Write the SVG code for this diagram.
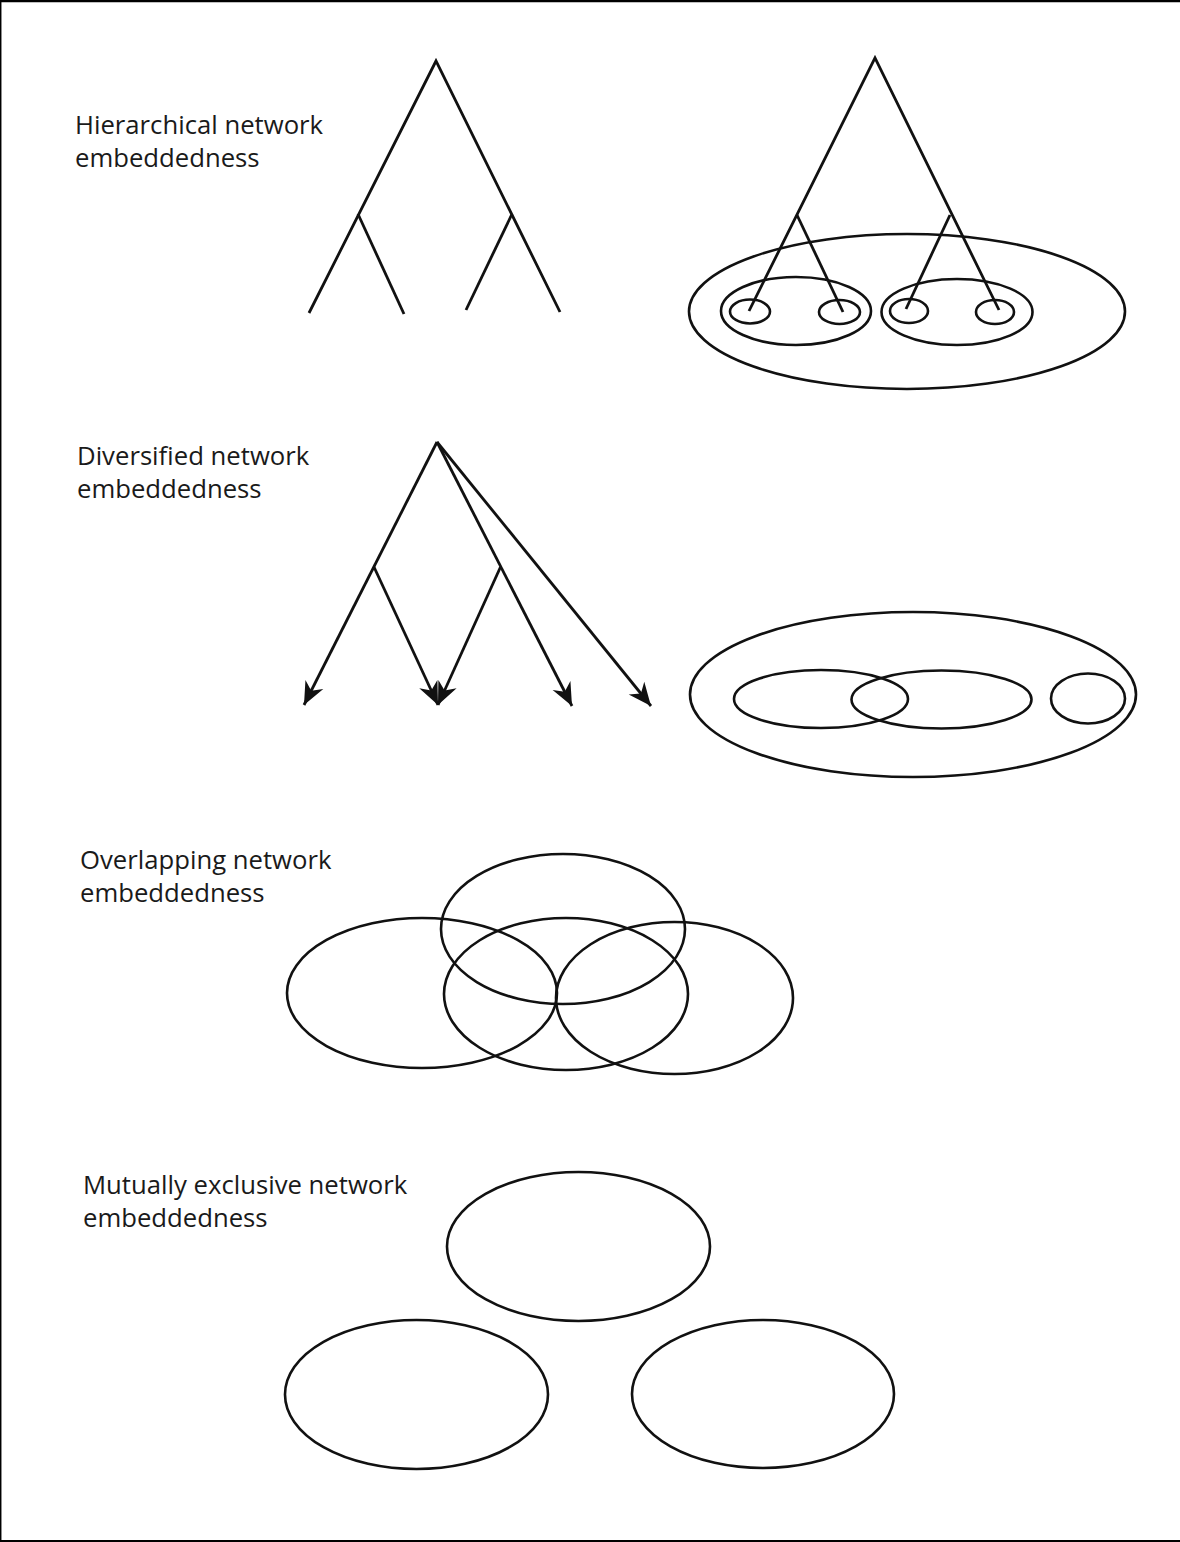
<svg xmlns="http://www.w3.org/2000/svg" width="1180" height="1542" viewBox="0 0 1180 1542">
<style>
.ln{fill:none;stroke:#111;stroke-width:2.8;stroke-linecap:butt}
.el{fill:none;stroke:#111;stroke-width:2.6}
.lbl{font-family:"Open Sans","Liberation Sans",sans-serif;font-size:25.7px;fill:#1a1a1a}
.frame{stroke:#000;fill:none}
</style>
<defs>
<marker id="ah" markerUnits="userSpaceOnUse" viewBox="-24 -12 26 24" markerWidth="26" markerHeight="24" refX="0" refY="0" orient="auto">
<path d="M0,0 L-23,-10 L-16,0 L-23,10 Z" fill="#111"/>
</marker>
</defs>
<rect width="1180" height="1542" fill="#fff"/>
<g id="frame">
<line class="frame" x1="0" y1="1" x2="1180" y2="1" stroke-width="2.5"/>
<line class="frame" x1="0.7" y1="0" x2="0.7" y2="1542" stroke-width="1.5"/>
<line class="frame" x1="0" y1="1541" x2="1180" y2="1541" stroke-width="1.8"/>
</g>
<g id="labels">
<text class="lbl" x="75" y="134">Hierarchical network</text>
<text class="lbl" x="75" y="167">embeddedness</text>
<text class="lbl" x="77" y="465">Diversified network</text>
<text class="lbl" x="77" y="498">embeddedness</text>
<text class="lbl" x="80" y="869">Overlapping network</text>
<text class="lbl" x="80" y="902">embeddedness</text>
<text class="lbl" x="83" y="1194">Mutually exclusive network</text>
<text class="lbl" x="83" y="1227">embeddedness</text>
</g>
<g id="hierarchical-ellipses">
<ellipse class="el" cx="907" cy="311.5" rx="218" ry="77.5"/>
<ellipse class="el" cx="796" cy="311" rx="75" ry="34"/>
<ellipse class="el" cx="957" cy="312" rx="75.5" ry="33"/>
<ellipse class="el" cx="750" cy="311.5" rx="20" ry="12"/>
<ellipse class="el" cx="839.5" cy="312" rx="20.5" ry="12"/>
<ellipse class="el" cx="909" cy="311" rx="19" ry="12"/>
<ellipse class="el" cx="995" cy="312" rx="19" ry="12"/>
</g>
<g id="diversified-ellipses">
<ellipse class="el" cx="913" cy="694.5" rx="223" ry="82.5"/>
<ellipse class="el" cx="821" cy="699" rx="87" ry="29"/>
<ellipse class="el" cx="941.5" cy="699.5" rx="90" ry="29"/>
<ellipse class="el" cx="1088" cy="698.5" rx="37" ry="25"/>
</g>
<g id="overlapping-ellipses">
<ellipse class="el" cx="563" cy="929" rx="122" ry="75"/>
<ellipse class="el" cx="422" cy="993" rx="135" ry="75"/>
<ellipse class="el" cx="566" cy="994" rx="122" ry="76"/>
<ellipse class="el" cx="674.5" cy="998" rx="118.5" ry="76"/>
</g>
<g id="exclusive-ellipses">
<ellipse class="el" cx="578.5" cy="1246.5" rx="131.5" ry="74.5"/>
<ellipse class="el" cx="416.5" cy="1394.5" rx="131.5" ry="74.5"/>
<ellipse class="el" cx="763" cy="1394" rx="131" ry="74"/>
</g>
<g id="connectors">
<polyline class="ln" points="309,313 436,61 560,312"/>
<line class="ln" x1="358" y1="214" x2="404" y2="314"/>
<line class="ln" x1="512" y1="214" x2="466" y2="310"/>
<polyline class="ln" points="749,311 875,58 999,310"/>
<line class="ln" x1="797" y1="215" x2="843" y2="312"/>
<line class="ln" x1="950" y1="215" x2="906" y2="309"/>
<line class="ln" x1="437" y1="442" x2="304" y2="705" marker-end="url(#ah)"/>
<line class="ln" x1="374" y1="567" x2="438" y2="705" marker-end="url(#ah)"/>
<line class="ln" x1="500.5" y1="567" x2="438" y2="705" marker-end="url(#ah)"/>
<line class="ln" x1="437" y1="442" x2="572" y2="706" marker-end="url(#ah)"/>
<line class="ln" x1="437" y1="442" x2="651" y2="706" marker-end="url(#ah)"/>
</g>
</svg>
